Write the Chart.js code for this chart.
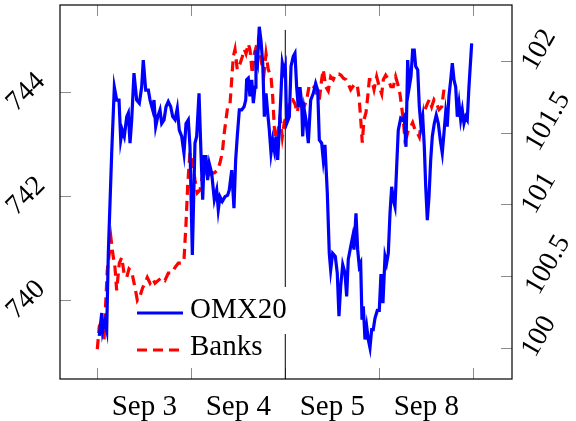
<!DOCTYPE html>
<html>
<head>
<meta charset="utf-8">
<script src="https://cdn.jsdelivr.net/npm/chart.js@4.4.1/dist/chart.umd.min.js"></script>
<style>
  html, body { margin: 0; padding: 0; background: #fff; }
</style>
</head>
<body>
<canvas id="chart" width="576" height="421"></canvas>
<script>
const dayLabels = ['Sep 3', 'Sep 4', 'Sep 5', 'Sep 8'];
const dayCenters = [0.5, 1.5, 2.5, 3.5];
const dayBounds = [0, 1, 2, 3, 4];
const leftTicks = [740, 742, 744];
const rightTicks = [100, 100.5, 101, 101.5, 102];

// time in trading days since Sep 3 open
const omxTime = [
    0.021, 0.047, 0.057, 0.082, 0.100, 0.117, 0.153, 0.181, 0.206, 0.231,
    0.249, 0.266, 0.287, 0.313, 0.330, 0.348, 0.366, 0.390, 0.419, 0.447,
    0.472, 0.489, 0.515, 0.543, 0.561, 0.589, 0.603, 0.621, 0.643, 0.667,
    0.685, 0.710, 0.731, 0.755, 0.781, 0.802, 0.827, 0.851, 0.872, 0.898,
    0.922, 0.944, 0.968, 0.986, 1.011, 1.039, 1.057, 1.082, 1.103, 1.121,
    1.138, 1.156, 1.174, 1.191, 1.217, 1.245, 1.270, 1.287, 1.305, 1.330,
    1.359, 1.387, 1.404, 1.430, 1.454, 1.472, 1.489, 1.511, 1.536, 1.561,
    1.579, 1.589, 1.606, 1.624, 1.643, 1.660, 1.678, 1.688, 1.706, 1.723,
    1.741, 1.760, 1.777, 1.795, 1.813, 1.830, 1.848, 1.866, 1.883, 1.901,
    1.919, 1.936, 1.954, 1.968, 1.986, 2.000, 2.015, 2.043, 2.061, 2.085,
    2.103, 2.121, 2.138, 2.156, 2.174, 2.185, 2.202, 2.220, 2.245, 2.270,
    2.298, 2.323, 2.345, 2.362, 2.387, 2.404, 2.422, 2.447, 2.468, 2.483,
    2.504, 2.532, 2.553, 2.571, 2.589, 2.611, 2.635, 2.653, 2.670, 2.696,
    2.717, 2.731, 2.752, 2.770, 2.787, 2.802, 2.816, 2.830, 2.848, 2.866,
    2.883, 2.901, 2.919, 2.936, 2.954, 2.979, 3.000, 3.018, 3.039, 3.061,
    3.078, 3.096, 3.114, 3.132, 3.149, 3.167, 3.185, 3.202, 3.228, 3.249,
    3.266, 3.284, 3.302, 3.319, 3.337, 3.355, 3.372, 3.387, 3.409, 3.426,
    3.444, 3.462, 3.479, 3.494, 3.511, 3.529, 3.547, 3.564, 3.585, 3.606,
    3.628, 3.649, 3.670, 3.688, 3.706, 3.723, 3.741, 3.760, 3.777, 3.795,
    3.813, 3.830, 3.848, 3.866, 3.883, 3.901, 3.919, 3.936, 3.954, 3.983
];
const omxValue = [
    739.31, 739.75, 739.40, 739.60, 739.43, 740.90, 742.83, 744.10, 743.85, 743.85,
    743.08, 743.27, 743.15, 743.53, 743.60, 743.02, 743.47, 744.37, 743.85, 743.79,
    744.10, 744.62, 744.04, 744.04, 743.85, 743.66, 743.85, 743.34, 743.53, 743.66,
    743.40, 743.47, 743.72, 743.82, 743.72, 743.53, 743.47, 743.69, 743.27, 743.15,
    742.83, 743.40, 743.47, 742.95, 740.87, 743.02, 743.15, 743.98, 742.83, 741.93,
    742.76, 742.76, 742.31, 742.63, 742.44, 741.93, 742.12, 741.74, 741.99, 741.90,
    741.99, 742.02, 742.12, 742.50, 741.77, 742.70, 743.15, 743.66, 743.66, 743.72,
    743.85, 744.24, 744.27, 743.92, 744.24, 743.79, 744.10, 744.81, 744.62, 745.26,
    745.00, 744.56, 743.53, 743.98, 743.60, 743.27, 742.83, 743.08, 742.89, 743.15,
    742.70, 743.27, 743.98, 744.56, 744.40, 744.50, 743.40, 743.53, 744.50, 744.69,
    744.75, 744.10, 743.72, 744.10, 743.79, 743.15, 743.66, 743.47, 743.02, 743.85,
    743.98, 744.17, 744.04, 743.08, 743.02, 742.70, 742.99, 742.06, 740.90, 740.58,
    740.90, 740.84, 740.52, 739.69, 740.26, 740.68, 740.52, 740.07, 740.78, 741.03,
    741.22, 740.97, 741.67, 740.97, 740.65, 740.71, 739.62, 739.88, 739.24, 739.49,
    739.24, 739.08, 739.43, 739.43, 739.65, 739.80, 739.80, 740.50, 739.94, 740.84,
    740.71, 740.90, 741.67, 742.18, 741.93, 741.80, 742.57, 743.27, 743.50, 743.47,
    743.53, 742.95, 744.62, 744.10, 744.30, 744.81, 744.81, 744.50, 744.43, 743.72,
    743.34, 743.53, 742.95, 742.18, 741.54, 741.99, 742.70, 743.15, 743.40, 743.56,
    743.40, 743.08, 742.83, 743.21, 743.60, 743.34, 743.92, 744.24, 744.56, 744.24,
    744.10, 743.53, 743.79, 743.47, 743.66, 743.40, 743.53, 743.47, 744.10, 744.94
];

const banksTime = [
    0.000, 0.021, 0.047, 0.071, 0.089, 0.106, 0.128, 0.146, 0.164, 0.188,
    0.206, 0.234, 0.260, 0.284, 0.313, 0.337, 0.366, 0.401, 0.426, 0.454,
    0.483, 0.507, 0.532, 0.561, 0.589, 0.614, 0.649, 0.685, 0.720, 0.755,
    0.791, 0.827, 0.862, 0.898, 0.922, 0.944, 0.962, 0.986, 1.011, 1.039,
    1.064, 1.093, 1.117, 1.146, 1.174, 1.210, 1.245, 1.281, 1.305, 1.330,
    1.351, 1.369, 1.387, 1.412, 1.430, 1.447, 1.465, 1.489, 1.518, 1.543,
    1.564, 1.582, 1.606, 1.624, 1.649, 1.670, 1.691, 1.713, 1.731, 1.749,
    1.773, 1.795, 1.819, 1.848, 1.866, 1.883, 1.901, 1.919, 1.944, 1.968,
    1.989, 2.021, 2.050, 2.079, 2.103, 2.128, 2.149, 2.174, 2.199, 2.228,
    2.252, 2.281, 2.309, 2.334, 2.362, 2.387, 2.404, 2.430, 2.457, 2.483,
    2.511, 2.539, 2.568, 2.593, 2.617, 2.646, 2.670, 2.696, 2.717, 2.741,
    2.766, 2.787, 2.805, 2.819, 2.837, 2.859, 2.877, 2.894, 2.919, 2.944,
    2.972, 3.000, 3.026, 3.043, 3.068, 3.096, 3.124, 3.149, 3.174, 3.196,
    3.220, 3.238, 3.255, 3.273, 3.291, 3.309, 3.334, 3.355, 3.380, 3.404,
    3.426, 3.451, 3.468, 3.486, 3.511, 3.532, 3.557, 3.582, 3.611, 3.635,
    3.664, 3.688
];
const banksValue = [
    99.99, 100.15, 100.18, 100.05, 100.31, 100.54, 100.66, 100.76, 100.66, 100.56,
    100.40, 100.59, 100.63, 100.52, 100.49, 100.55, 100.53, 100.42, 100.33, 100.36,
    100.42, 100.45, 100.49, 100.45, 100.48, 100.45, 100.47, 100.49, 100.47, 100.52,
    100.52, 100.56, 100.59, 100.59, 100.61, 100.87, 101.14, 101.36, 101.31, 101.17,
    101.08, 101.10, 101.19, 101.22, 101.19, 101.22, 101.22, 101.24, 101.29, 101.36,
    101.50, 101.59, 101.68, 101.70, 101.87, 102.03, 102.08, 101.94, 101.98, 102.03,
    102.08, 102.05, 102.12, 102.08, 101.91, 102.05, 102.10, 102.15, 102.05, 101.98,
    101.91, 102.05, 101.94, 101.89, 101.75, 101.54, 101.40, 101.50, 101.61, 101.47,
    101.57, 101.64, 101.73, 101.73, 101.70, 101.64, 101.73, 101.68, 101.68, 101.73,
    101.82, 101.80, 101.82, 101.77, 101.73, 101.87, 101.94, 101.82, 101.79, 101.89,
    101.87, 101.91, 101.91, 101.90, 101.88, 101.87, 101.84, 101.80, 101.82, 101.84,
    101.83, 101.73, 101.57, 101.43, 101.59, 101.64, 101.75, 101.87, 101.87, 101.80,
    101.89, 101.82, 101.77, 101.87, 101.90, 101.87, 101.82, 101.82, 101.89, 101.84,
    101.77, 101.68, 101.59, 101.45, 101.47, 101.52, 101.54, 101.57, 101.52, 101.50,
    101.47, 101.59, 101.64, 101.66, 101.70, 101.73, 101.68, 101.73, 101.70, 101.66,
    101.68, 101.80
];

// vertical marker at the Sep 5 open
const splitTime = [2, 2];
const splitLevel = [738.48, 745.2];

const textFont = '"Liberation Serif", "Times New Roman", serif';

function toPoints(xs, ys) {
    return xs.map((x, i) => ({ x: x, y: ys[i] }));
}

const frameAndTicks = {
    id: 'frameAndTicks',
    beforeDatasetsDraw(chart) {
        const { ctx, chartArea: ca, scales } = chart;
        ctx.save();
        ctx.strokeStyle = '#8c8c8c';
        ctx.lineWidth = 1;
        ctx.beginPath();
        dayBounds.forEach(d => {
            const px = Math.round(scales.x.getPixelForValue(d)) + 0.5;
            ctx.moveTo(px, ca.bottom); ctx.lineTo(px, ca.bottom - 11);
            ctx.moveTo(px, ca.top); ctx.lineTo(px, ca.top + 11);
        });
        leftTicks.forEach(v => {
            const py = Math.round(scales.y.getPixelForValue(v)) + 0.5;
            ctx.moveTo(ca.left, py); ctx.lineTo(ca.left + 11, py);
        });
        rightTicks.forEach(v => {
            const py = Math.round(scales.y1.getPixelForValue(v)) + 0.5;
            ctx.moveTo(ca.right, py); ctx.lineTo(ca.right - 11, py);
        });
        ctx.stroke();
        ctx.restore();
    },
    afterDatasetsDraw(chart) {
        const { ctx, chartArea: ca, scales } = chart;
        const ds = chart.data.datasets;
        ctx.save();

        // legend, lower left inside the plot
        ctx.font = '29px ' + textFont;
        ctx.textBaseline = 'middle';
        const rows = [
            { ds: ds[0], y: ca.top + 305 },
            { ds: ds[1], y: ca.top + 342 }
        ];
        rows.forEach((r, i) => {
            const tw = ctx.measureText(r.ds.label).width;
            if (i === 0) {
                ctx.fillStyle = '#fff';
                ctx.fillRect(ca.left + 127, ca.top + 282, tw + 8, 47);
            }
            ctx.strokeStyle = r.ds.borderColor;
            ctx.lineWidth = r.ds.borderWidth;
            ctx.setLineDash(r.ds.borderDash || []);
            ctx.beginPath();
            ctx.moveTo(ca.left + 77, r.y + 3);
            ctx.lineTo(ca.left + 123, r.y + 3);
            ctx.stroke();
            ctx.setLineDash([]);
            ctx.fillStyle = '#000';
            ctx.textAlign = 'left';
            ctx.fillText(r.ds.label, ca.left + 130, r.y);
        });

        // frame
        ctx.strokeStyle = '#000';
        ctx.lineWidth = 1.2;
        ctx.strokeRect(ca.left, ca.top, ca.right - ca.left, ca.bottom - ca.top);

        // rotated y tick labels
        ctx.fillStyle = '#000';
        ctx.font = '28px ' + textFont;
        ctx.textAlign = 'center';
        ctx.textBaseline = 'middle';
        leftTicks.forEach(v => {
            const py = scales.y.getPixelForValue(v);
            ctx.save();
            ctx.translate(ca.left - 34, py);
            ctx.rotate(-Math.PI / 4);
            ctx.fillText(String(v), 0, 0);
            ctx.restore();
        });
        rightTicks.forEach(v => {
            const py = scales.y1.getPixelForValue(v);
            const w = ctx.measureText(String(v)).width;
            ctx.save();
            ctx.translate(ca.right + 9 + 0.43 * w, py - 11);
            ctx.rotate(-Math.PI / 3);
            ctx.fillText(String(v), 0, 0);
            ctx.restore();
        });
        ctx.restore();
    }
};

const ctx = document.getElementById('chart').getContext('2d');
const chart = new Chart(ctx, {
    type: 'line',
    data: {
        datasets: [{
            label: 'OMX20',
            data: toPoints(omxTime, omxValue),
            yAxisID: 'y',
            borderColor: '#0000ff',
            borderWidth: 3.2,
            pointRadius: 0,
            tension: 0,
            fill: false
        }, {
            label: 'Banks',
            data: toPoints(banksTime, banksValue),
            yAxisID: 'y1',
            borderColor: '#ff0000',
            borderWidth: 3.2,
            borderDash: [10, 6],
            pointRadius: 0,
            tension: 0,
            fill: false
        }, {
            label: 'split',
            data: toPoints(splitTime, splitLevel),
            yAxisID: 'y',
            borderColor: '#000000',
            borderWidth: 1,
            pointRadius: 0,
            fill: false
        }]
    },
    options: {
        responsive: false,
        animation: false,
        devicePixelRatio: 1,
        layout: { padding: { top: 5, left: 0, right: 0, bottom: 0 } },
        plugins: {
            legend: { display: false },
            tooltip: { enabled: false }
        },
        scales: {
            x: {
                type: 'linear',
                min: -0.397,
                max: 4.412,
                grid: { display: false },
                border: { display: false },
                afterBuildTicks: s => { s.ticks = dayCenters.map(v => ({ value: v })); },
                afterFit: s => { s.height = 42; },
                ticks: {
                    autoSkip: false,
                    maxRotation: 0,
                    padding: 3,
                    color: '#000',
                    font: { family: textFont, size: 29 },
                    callback: (v, i) => dayLabels[i]
                }
            },
            y: {
                position: 'left',
                min: 738.48,
                max: 745.68,
                grid: { display: false },
                border: { display: false },
                ticks: { display: false },
                afterFit: s => { s.width = 60; }
            },
            y1: {
                position: 'right',
                min: 99.782,
                max: 102.39,
                grid: { display: false },
                border: { display: false },
                ticks: { display: false },
                afterFit: s => { s.width = 64; }
            }
        }
    },
    plugins: [frameAndTicks]
});
</script>
</body>
</html>
